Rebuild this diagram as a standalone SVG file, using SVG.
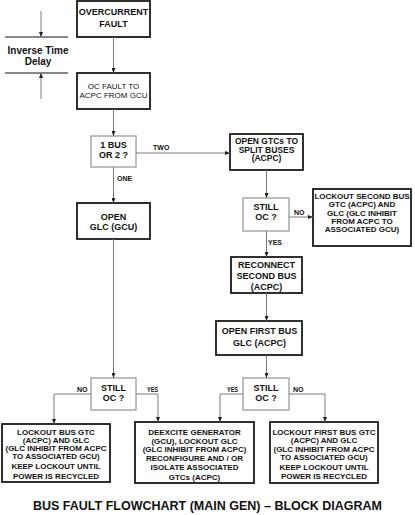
<svg xmlns="http://www.w3.org/2000/svg" width="415" height="515" viewBox="0 0 415 515">
<style>
.box{fill:#fff;stroke:#1a1a1a;stroke-width:1.8}
.dec{fill:#fff;stroke:#a8a8a8;stroke-width:1.5}
.t{font-family:"Liberation Sans",Arial,sans-serif;font-weight:bold;fill:#111;text-anchor:middle}
.t9{font-size:9px}
.t8{font-size:8px}
.tr{font-family:"Liberation Sans",Arial,sans-serif;font-size:8px;fill:#111;text-anchor:middle}
.lbl{font-family:"Liberation Sans",Arial,sans-serif;font-weight:bold;font-size:7px;fill:#111}
.c{fill:none;stroke:#7a7a7a;stroke-width:1;marker-end:url(#ah)}
</style>
<defs>
<marker id="ah" markerWidth="5" markerHeight="4" refX="5" refY="2" orient="auto" markerUnits="userSpaceOnUse">
<path d="M0,0 L5,2 L0,4 Z" fill="#222"/>
</marker>
</defs>
<rect width="415" height="515" fill="#fff"/>

<g id="inverse-time-delay">
<line x1="5" y1="37" x2="68" y2="37" stroke="#111" stroke-width="1"/>
<line x1="5" y1="73" x2="68" y2="73" stroke="#111" stroke-width="1"/>
<text class="t" x="38" y="54" font-size="10">Inverse Time</text>
<text class="t" x="38" y="65" font-size="10">Delay</text>
</g>

<g id="overcurrent-fault">
<rect class="box" x="77" y="1" width="73" height="36"/>
<text class="t t9" x="113.5" y="15">OVERCURRENT</text>
<text class="t t9" x="113.5" y="27">FAULT</text>
</g>

<g id="oc-fault-to-acpc">
<rect class="box" x="77" y="73" width="73" height="36"/>
<text class="tr" x="113.5" y="89">OC FAULT TO</text>
<text class="tr" x="113.5" y="98">ACPC FROM GCU</text>
</g>

<g id="bus-1-or-2">
<rect class="dec" x="91" y="136" width="45" height="31"/>
<text class="t t9" x="113.5" y="148">1 BUS</text>
<text class="t t9" x="113.5" y="158">OR 2 ?</text>
</g>

<g id="open-gtcs">
<rect class="box" x="230" y="134" width="73" height="36"/>
<text class="t" font-size="8.5" x="266.5" y="144">OPEN GTCs TO</text>
<text class="t" font-size="8.5" x="266.5" y="152.5">SPLIT BUSES</text>
<text class="t" font-size="8.5" x="266.5" y="161">(ACPC)</text>
</g>

<g id="open-glc-gcu">
<rect class="box" x="77" y="203" width="73" height="36"/>
<text class="t t9" x="113.5" y="220">OPEN</text>
<text class="t t9" x="113.5" y="230">GLC (GCU)</text>
</g>

<g id="still-oc-1">
<rect class="dec" x="243" y="198" width="46" height="33"/>
<text class="t t9" x="266" y="210">STILL</text>
<text class="t t9" x="266" y="220">OC ?</text>
</g>

<g id="lockout-second-bus">
<rect class="box" x="313" y="189" width="98" height="57"/>
<text class="t t8" x="362" y="198.5">LOCKOUT SECOND BUS</text>
<text class="t t8" x="362" y="207">GTC (ACPC) AND</text>
<text class="t t8" x="362" y="215.5">GLC (GLC INHIBIT</text>
<text class="t t8" x="362" y="224">FROM ACPC TO</text>
<text class="t t8" x="362" y="232">ASSOCIATED GCU)</text>
</g>

<g id="reconnect-second-bus">
<rect class="box" x="231" y="257" width="71" height="36"/>
<text class="t t9" x="266.5" y="268">RECONNECT</text>
<text class="t t9" x="266.5" y="279">SECOND BUS</text>
<text class="t t9" x="266.5" y="290">(ACPC)</text>
</g>

<g id="open-first-bus-glc">
<rect class="box" x="216" y="321" width="86" height="34"/>
<text class="t t9" x="259.5" y="334">OPEN FIRST BUS</text>
<text class="t t9" x="259.5" y="346">GLC (ACPC)</text>
</g>

<g id="still-oc-left">
<rect class="dec" x="91" y="378" width="45" height="32"/>
<text class="t t9" x="113.5" y="391">STILL</text>
<text class="t t9" x="113.5" y="401">OC ?</text>
</g>

<g id="still-oc-right">
<rect class="dec" x="243" y="378" width="46" height="32"/>
<text class="t t9" x="266" y="391">STILL</text>
<text class="t t9" x="266" y="401">OC ?</text>
</g>

<g id="lockout-bus-gtc">
<rect class="box" x="2" y="424" width="108" height="58"/>
<text class="t t8" x="56" y="435">LOCKOUT BUS GTC</text>
<text class="t t8" x="56" y="443">(ACPC) AND GLC</text>
<text class="t t8" x="56" y="451">(GLC INHIBIT FROM ACPC</text>
<text class="t t8" x="56" y="459">TO ASSOCIATED GCU)</text>
<text class="t t8" x="56" y="469">KEEP LOCKOUT UNTIL</text>
<text class="t t8" x="56" y="479">POWER IS RECYCLED</text>
</g>

<g id="deexcite-generator">
<rect class="box" x="135" y="422" width="119" height="61"/>
<text class="t t8" x="194.5" y="435">DEEXCITE GENERATOR</text>
<text class="t t8" x="194.5" y="444">(GCU), LOCKOUT GLC</text>
<text class="t t8" x="194.5" y="452">(GLC INHIBIT FROM ACPC)</text>
<text class="t t8" x="194.5" y="461">RECONFIGURE AND / OR</text>
<text class="t t8" x="194.5" y="470">ISOLATE ASSOCIATED</text>
<text class="t t8" x="194.5" y="480">GTCs (ACPC)</text>
</g>

<g id="lockout-first-bus-gtc">
<rect class="box" x="270" y="422" width="108" height="61"/>
<text class="t t8" x="324" y="435">LOCKOUT FIRST BUS GTC</text>
<text class="t t8" x="324" y="443">(ACPC) AND GLC</text>
<text class="t t8" x="324" y="452">(GLC INHIBIT FROM ACPC</text>
<text class="t t8" x="324" y="460">TO ASSOCIATED GCU)</text>
<text class="t t8" x="324" y="470">KEEP LOCKOUT UNTIL</text>
<text class="t t8" x="324" y="479">POWER IS RECYCLED</text>
</g>

<g id="connectors">
<path class="c" d="M41,11 V37"/>
<path class="c" d="M41,99 V73"/>
<path class="c" d="M113.5,37 V73"/>
<path class="c" d="M113.5,109 V136"/>
<path class="c" d="M136,153 H230"/>
<path class="c" d="M113.5,167 V203"/>
<path class="c" d="M113.5,239 V378"/>
<path class="c" d="M91,394 H54 V424"/>
<path class="c" d="M136,394 H158 V422"/>
<path class="c" d="M266.5,170 V198"/>
<path class="c" d="M289,217 H313"/>
<path class="c" d="M266.5,231 V257"/>
<path class="c" d="M266.5,293 V321"/>
<path class="c" d="M266.5,355 V378"/>
<path class="c" d="M243,394 H220 V422"/>
<path class="c" d="M289,394 H325 V422"/>
<text class="lbl" x="153" y="149.5">TWO</text>
<text class="lbl" x="117" y="180.5">ONE</text>
<text class="lbl" x="294" y="214.5">NO</text>
<text class="lbl" x="268" y="244.5">YES</text>
<text class="lbl" x="77" y="392">NO</text>
<text class="lbl" x="147" y="392" textLength="11" lengthAdjust="spacingAndGlyphs">YES</text>
<text class="lbl" x="227" y="392" textLength="11" lengthAdjust="spacingAndGlyphs">YES</text>
<text class="lbl" x="293" y="392">NO</text>
</g>

<text class="t" x="207.5" y="509.5" font-size="12.5">BUS FAULT FLOWCHART (MAIN GEN) – BLOCK DIAGRAM</text>
</svg>
